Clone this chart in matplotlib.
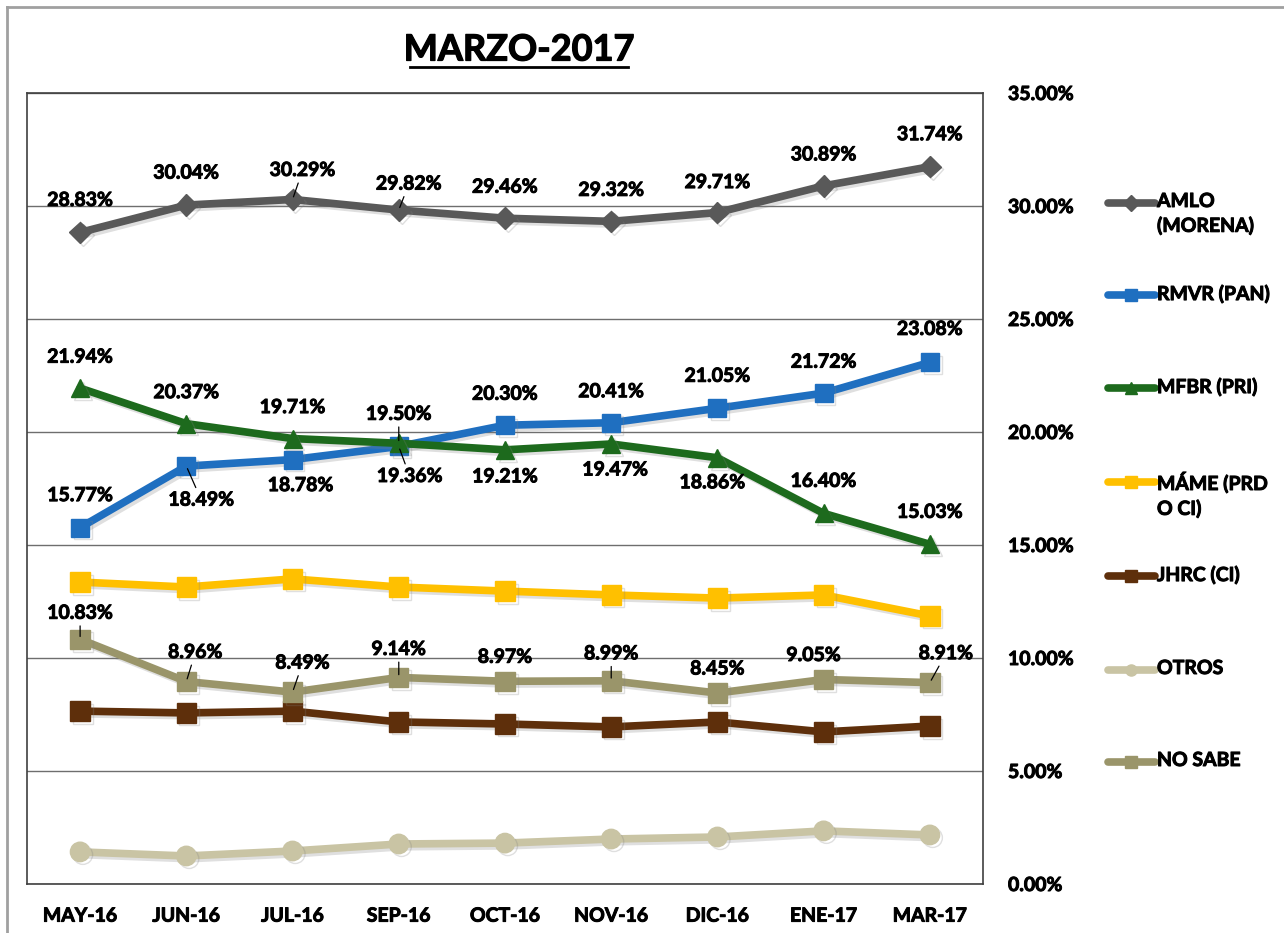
import matplotlib
matplotlib.use("Agg")
import matplotlib.pyplot as plt
from matplotlib.lines import Line2D
import matplotlib.patheffects as pe

plt.rcParams['font.family'] = ['Lato', 'DejaVu Sans']
plt.rcParams['font.weight'] = 'bold'

# trazo fino para engrosar un poco el texto
grueso = [pe.withStroke(linewidth=0.7, foreground='black')]

meses = ['MAY-16', 'JUN-16', 'JUL-16', 'SEP-16', 'OCT-16', 'NOV-16', 'DIC-16', 'ENE-17', 'MAR-17']

amlo = [28.83, 30.04, 30.29, 29.82, 29.46, 29.32, 29.71, 30.89, 31.74]
rmvr = [15.77, 18.49, 18.78, 19.36, 20.30, 20.41, 21.05, 21.72, 23.08]
mfbr = [21.94, 20.37, 19.71, 19.50, 19.21, 19.47, 18.86, 16.40, 15.03]
mame = [13.36, 13.14, 13.50, 13.14, 12.96, 12.79, 12.65, 12.79, 11.86]
jhrc = [7.65, 7.57, 7.65, 7.17, 7.08, 6.95, 7.17, 6.73, 6.99]
otros = [1.42, 1.24, 1.46, 1.77, 1.81, 1.99, 2.08, 2.35, 2.17]
no_sabe = [10.83, 8.96, 8.49, 9.14, 8.97, 8.99, 8.45, 9.05, 8.91]

nombres = ['AMLO\n(MORENA)', 'RMVR (PAN)', 'MFBR (PRI)', 'MÁME (PRD\nO CI)', 'JHRC (CI)', 'OTROS', 'NO SABE']
valores = [amlo, rmvr, mfbr, mame, jhrc, otros, no_sabe]
colores = ['#595959', '#1f6fc0', '#1d6a1d', '#ffc000', '#5e2f0b', '#c9c4a4', '#9a956a']
marcadores = ['D', 's', '^', 's', 's', 'o', 's']
tam_marcador = [11, 13, 13, 14, 14, 14, 14]

# desplazamiento de las etiquetas (pixeles) y si llevan linea guia
etq_amlo = [(0, 32), (0, 32), (10, 29), (10, 26), (0, 31), (0, 31), (0, 30), (0, 31), (0, 32)]
guia_amlo = [0, 0, 1, 1, 0, 0, 0, 0, 0]
etq_rmvr = [(0, 32), (15, -34), (8, -26), (11, -30), (0, 31), (0, 31), (0, 32), (0, 31), (0, 33)]
guia_rmvr = [0, 1, 0, 1, 0, 0, 0, 0, 0]
etq_mfbr = [(0, 31), (0, 31), (0, 31), (0, 29), (0, -27), (4, -26), (-5, -25), (0, 32), (0, 32)]
guia_mfbr = [0, 0, 0, 1, 0, 0, 0, 0, 0]
etq_nosabe = [(0, 26), (9, 29), (10, 29), (0, 28), (0, 24), (0, 27), (0, 24), (-10, 24), (16, 29)]
guia_nosabe = [1, 1, 1, 1, 0, 1, 0, 0, 1]

etiquetas = {0: (etq_amlo, guia_amlo), 1: (etq_rmvr, guia_rmvr),
             2: (etq_mfbr, guia_mfbr), 6: (etq_nosabe, guia_nosabe)}

fig = plt.figure(figsize=(12.84, 9.33), dpi=100)
ax = fig.add_axes([27 / 1284, 49 / 933, 956 / 1284, 791 / 933])

x = list(range(len(meses)))
sombra = [pe.SimpleLineShadow(offset=(2, -2), alpha=0.25, shadow_color='gray'), pe.Normal()]

for i in range(len(valores)):
    ax.plot(x, valores[i], color=colores[i], lw=5.5, marker=marcadores[i],
            ms=tam_marcador[i], solid_joinstyle='round', solid_capstyle='round',
            path_effects=sombra, zorder=3)

for i, (offs, guias) in etiquetas.items():
    for j, v in enumerate(valores[i]):
        dx, dy = offs[j]
        props = None
        if guias[j]:
            props = dict(arrowstyle='-', color='black', lw=0.9, shrinkA=1, shrinkB=2)
        ax.annotate('%.2f%%' % v, xy=(j, v), xytext=(dx, dy), textcoords='offset pixels',
                    ha='center', va='center', fontsize=14, fontweight='bold',
                    color='black', arrowprops=props, zorder=5, path_effects=grueso)

ax.set_xlim(-0.5, len(meses) - 0.5)
ax.set_ylim(0, 35)
ax.set_yticks([0, 5, 10, 15, 20, 25, 30, 35])
ax.set_yticklabels(['%.2f%%' % t for t in [0, 5, 10, 15, 20, 25, 30, 35]])
ax.yaxis.tick_right()
ax.tick_params(axis='y', length=0, pad=18, labelsize=14)
ax.set_xticks(x)
ax.set_xticklabels(meses)
ax.tick_params(axis='x', length=0, pad=17, labelsize=14)
for lab in ax.get_xticklabels() + ax.get_yticklabels():
    lab.set_fontweight('bold')
    lab.set_path_effects(grueso)
ax.grid(axis='y', color='#6e6e6e', lw=1.0)
ax.set_axisbelow(True)
for s in ax.spines.values():
    s.set_color('#404040')
    s.set_linewidth(1.2)

# leyenda a la derecha
y_ley = [203, 295, 388, 482, 576, 670, 762]
for i in range(len(nombres)):
    yf = 1 - y_ley[i] / 933
    fig.add_artist(Line2D([1108 / 1284, 1155 / 1284], [yf, yf], color=colores[i], lw=5.5,
                          solid_capstyle='round', transform=fig.transFigure))
    fig.add_artist(Line2D([1131 / 1284], [yf], color=colores[i], marker=marcadores[i],
                          ms=8, transform=fig.transFigure))
    fig.text(1157 / 1284, yf + 10 / 933, nombres[i], ha='left', va='top', fontsize=14,
             fontweight='bold', linespacing=1.45, path_effects=grueso)

titulo = fig.text(519 / 1284, 1 - 50 / 933, 'MARZO-2017', ha='center', va='center',
                  fontsize=26, fontweight='bold',
                  path_effects=[pe.withStroke(linewidth=0.9, foreground='black')])
fig.add_artist(Line2D([410 / 1284, 628 / 1284], [1 - 67 / 933, 1 - 67 / 933],
                      color='black', lw=2, transform=fig.transFigure))

# marco exterior
fig.add_artist(Line2D([7 / 1284, 1], [1 - 7 / 933, 1 - 7 / 933], color='#a0a0a0', lw=2,
                      transform=fig.transFigure))
fig.add_artist(Line2D([7 / 1284, 7 / 1284], [0, 1 - 7 / 933], color='#a0a0a0', lw=2,
                      transform=fig.transFigure))

fig.savefig('out.png', dpi=100)
